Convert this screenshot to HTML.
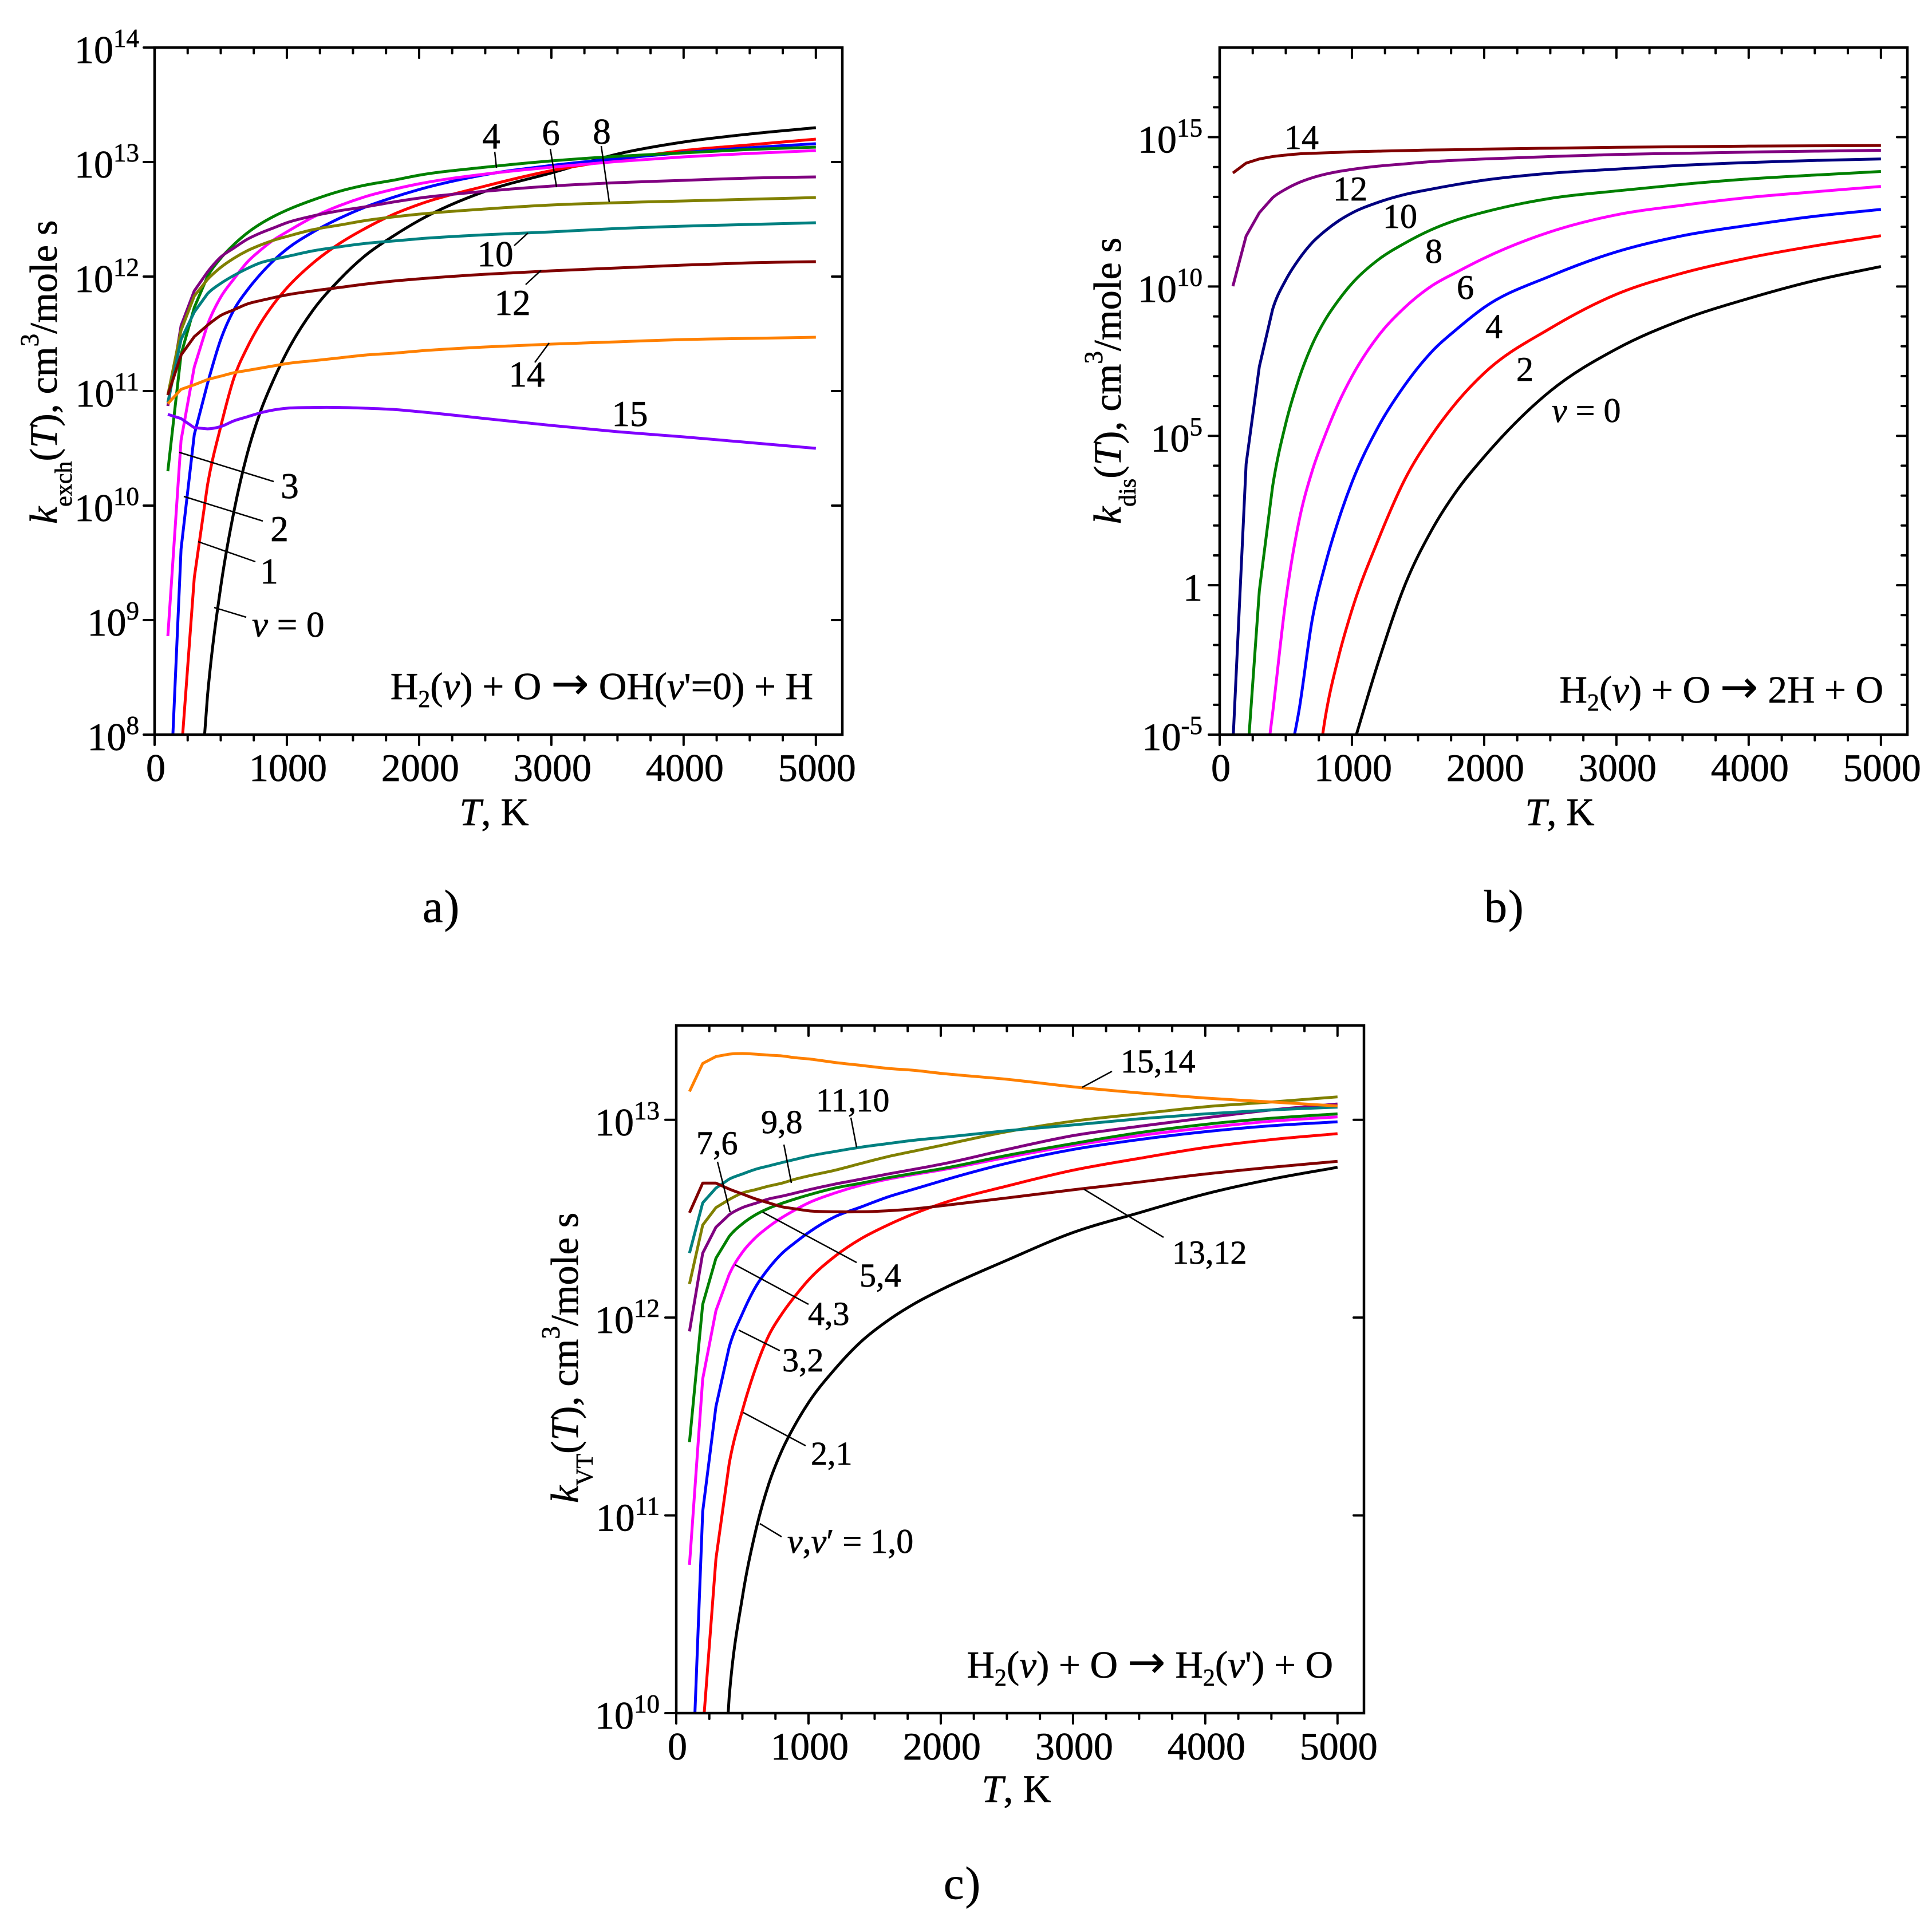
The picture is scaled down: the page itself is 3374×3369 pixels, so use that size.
<!DOCTYPE html>
<html lang="en">
<head>
<meta charset="utf-8">
<title>H2 + O rate coefficients</title>
<style>
html,body{margin:0;padding:0;background:#fff;}
svg{display:block;}
text{font-family:"Liberation Serif",serif;fill:#000;stroke:#000;stroke-width:.7px;}
.lead{stroke:#000;stroke-width:2.5;fill:none;}
.tt{font-size:68px;}
.an{font-size:63px;text-anchor:middle;}
.anb{font-size:60px;text-anchor:middle;}
.anc{font-size:58px;}
.pl{font-size:80px;letter-spacing:2px;}
.arrow{font-family:"DejaVu Sans",sans-serif;font-size:80px;stroke-width:0;}
</style>
</head>
<body>
<svg id="fig" xmlns="http://www.w3.org/2000/svg" width="3374" height="3369" viewBox="0 0 3374 3369">
<rect x="0" y="0" width="3374" height="3369" fill="#fff"/>
<g id="plots"></g>

<!-- Panel a text -->
<g>
<text class="tt" x="863" y="1441" text-anchor="middle"><tspan font-style="italic">T</tspan>, K</text>
<text class="tt" transform="translate(99,915) rotate(-90)"><tspan font-style="italic">k</tspan><tspan font-size="42" dy="26">exch</tspan><tspan dy="-26">(</tspan><tspan font-style="italic">T</tspan>), cm<tspan font-size="45" dy="-32">3</tspan><tspan dy="32">/mole s</tspan></text>
<text font-size="67" x="1420" y="1221" text-anchor="end">H<tspan font-size="42" dy="14">2</tspan><tspan dy="-14">(</tspan><tspan font-style="italic">v</tspan>) + O <tspan class="arrow">→</tspan> OH(<tspan font-style="italic">v</tspan>'=0) + H</text>
<text class="pl" x="738" y="1610">a)</text>
<text class="an" x="858" y="259">4</text>
<text class="an" x="962" y="253">6</text>
<text class="an" x="1051" y="251">8</text>
<text class="an" x="865" y="465">10</text>
<text class="an" x="895" y="550">12</text>
<text class="an" x="920" y="675">14</text>
<text class="an" x="1100" y="744">15</text>
<text class="an" x="506" y="870">3</text>
<text class="an" x="488" y="945">2</text>
<text class="an" x="470" y="1019">1</text>
<text font-size="63" x="440" y="1112"><tspan font-style="italic">v</tspan> = 0</text>
<line class="lead" x1="313" y1="790" x2="478" y2="841"/>
<line class="lead" x1="321" y1="867" x2="459" y2="910"/>
<line class="lead" x1="346" y1="946" x2="446" y2="981"/>
<line class="lead" x1="374" y1="1061" x2="430" y2="1078"/>
<line class="lead" x1="864" y1="265" x2="867" y2="293"/>
<line class="lead" x1="961" y1="260" x2="972" y2="327"/>
<line class="lead" x1="1050" y1="255" x2="1064" y2="353"/>
<line class="lead" x1="922" y1="407" x2="898" y2="429"/>
<line class="lead" x1="945" y1="472" x2="918" y2="497"/>
<line class="lead" x1="959" y1="599" x2="934" y2="633"/>
</g>

<!-- Panel b text -->
<g>
<text class="tt" x="2724" y="1441" text-anchor="middle"><tspan font-style="italic">T</tspan>, K</text>
<text class="tt" transform="translate(1957,915) rotate(-90)"><tspan font-style="italic">k</tspan><tspan font-size="42" dy="26">dis</tspan><tspan dy="-26">(</tspan><tspan font-style="italic">T</tspan>), cm<tspan font-size="45" dy="-32">3</tspan><tspan dy="32">/mole s</tspan></text>
<text font-size="67" x="3289" y="1227" text-anchor="end">H<tspan font-size="42" dy="14">2</tspan><tspan dy="-14">(</tspan><tspan font-style="italic">v</tspan>) + O <tspan class="arrow">→</tspan> 2H + O</text>
<text class="pl" x="2592" y="1610">b)</text>
<text class="anb" x="2273" y="260">14</text>
<text class="anb" x="2358" y="350">12</text>
<text class="anb" x="2445" y="398">10</text>
<text class="anb" x="2504" y="459">8</text>
<text class="anb" x="2559" y="522">6</text>
<text class="anb" x="2609" y="590">4</text>
<text class="anb" x="2663" y="665">2</text>
<text font-size="60" x="2710" y="737"><tspan font-style="italic">v</tspan> = 0</text>
</g>

<!-- Panel c text -->
<g>
<text class="tt" x="1775" y="3147" text-anchor="middle"><tspan font-style="italic">T</tspan>, K</text>
<text class="tt" transform="translate(1009,2625) rotate(-90)"><tspan font-style="italic">k</tspan><tspan font-size="42" dy="26">VT</tspan><tspan dy="-26">(</tspan><tspan font-style="italic">T</tspan>), cm<tspan font-size="45" dy="-32">3</tspan><tspan dy="32">/mole s</tspan></text>
<text font-size="67" x="2328" y="2930" text-anchor="end">H<tspan font-size="42" dy="14">2</tspan><tspan dy="-14">(</tspan><tspan font-style="italic">v</tspan>) + O <tspan class="arrow">→</tspan> H<tspan font-size="42" dy="14">2</tspan><tspan dy="-14">(</tspan><tspan font-style="italic">v</tspan>') + O</text>
<text class="pl" x="1648" y="3316">c)</text>
<text class="anc" x="1957" y="1873">15,14</text>
<text class="anc" x="1425" y="1941">11,10</text>
<text class="anc" x="1329" y="1979">9,8</text>
<text class="anc" x="1216" y="2016">7,6</text>
<text class="anc" x="1501" y="2247">5,4</text>
<text class="anc" x="1411" y="2314">4,3</text>
<text class="anc" x="1366" y="2395">3,2</text>
<text class="anc" x="1416" y="2558">2,1</text>
<text font-size="60" x="1375" y="2712"><tspan font-style="italic">v</tspan>,<tspan font-style="italic">v</tspan>′ = 1,0</text>
<text class="anc" x="2047" y="2207">13,12</text>
<line class="lead" x1="1890" y1="1899" x2="1942" y2="1871"/>
<line class="lead" x1="1486" y1="1952" x2="1496" y2="2004"/>
<line class="lead" x1="1369" y1="1999" x2="1382" y2="2066"/>
<line class="lead" x1="1253" y1="2029" x2="1275" y2="2117"/>
<line class="lead" x1="1332" y1="2117" x2="1496" y2="2205"/>
<line class="lead" x1="1284" y1="2209" x2="1412" y2="2278"/>
<line class="lead" x1="1290" y1="2323" x2="1362" y2="2359"/>
<line class="lead" x1="1298" y1="2467" x2="1407" y2="2525"/>
<line class="lead" x1="1327" y1="2661" x2="1365" y2="2684"/>
<line class="lead" x1="1893" y1="2077" x2="2032" y2="2161"/>
</g>
</svg>

<script>
// Temperature grid (K), shared by every series
const temperatures = [100,200,300,400,500,600,700,800,900,1000,1200,1400,1600,1800,2000,2500,3000,3500,4000,4500,5000];

// X-axis ticks
const xMajorTicks = [0,1000,2000,3000,4000,5000];
const xMinorStep = 250;
const xLimit = 5200;

// Panel a: log10 k_exch
const aExponents = [8,9,10,11,12,13,14];
const aV0  = [null,null,6.79,8.34,9.29,9.95,10.45,10.82,11.10,11.34,11.71,11.975,12.19,12.35,12.49,12.745,12.905,13.07,13.175,13.245,13.30];
const aV1  = [null,7.81,9.37,10.18,10.69,11.115,11.38,11.59,11.76,11.90,12.12,12.29,12.425,12.54,12.63,12.79,12.925,13.02,13.10,13.15,13.20];
const aV2  = [7.0,9.62,10.62,11.065,11.45,11.71,11.88,12.02,12.14,12.24,12.39,12.51,12.61,12.69,12.76,12.89,12.97,13.03,13.083,13.125,13.16];
const aV3  = [8.86,10.57,11.21,11.58,11.82,11.98,12.125,12.23,12.32,12.39,12.52,12.62,12.70,12.76,12.81,12.895,12.955,13.005,13.045,13.075,13.10];
const aV4  = [10.30,11.32,11.73,12.0,12.16,12.28,12.38,12.46,12.525,12.58,12.67,12.745,12.80,12.84,12.885,12.955,13.01,13.05,13.08,13.11,13.13];
const aV6  = [10.87,11.57,11.875,12.04,12.17,12.25,12.325,12.38,12.425,12.47,12.53,12.575,12.61,12.65,12.685,12.745,12.79,12.82,12.84,12.86,12.87];
const aV8  = [10.965,11.53,11.83,11.975,12.08,12.16,12.225,12.275,12.317,12.35,12.41,12.45,12.49,12.52,12.545,12.59,12.625,12.645,12.66,12.675,12.69];
const aV10 = [10.90,11.45,11.69,11.85,11.94,12.01,12.07,12.12,12.15,12.175,12.225,12.26,12.29,12.31,12.33,12.365,12.39,12.42,12.44,12.455,12.47];
const aV12 = [10.965,11.315,11.475,11.575,11.66,11.71,11.76,11.79,11.816,11.84,11.875,11.905,11.935,11.96,11.98,12.02,12.05,12.075,12.10,12.12,12.13];
const aV14 = [10.89,11.015,11.055,11.10,11.13,11.16,11.18,11.20,11.22,11.24,11.265,11.29,11.315,11.33,11.35,11.385,11.41,11.43,11.45,11.46,11.47];
const aV15 = [10.796,10.76,10.68,10.67,10.69,10.74,10.775,10.81,10.835,10.85,10.857,10.857,10.85,10.84,10.82,10.76,10.70,10.645,10.60,10.55,10.50];

// Panel b: log10 k_dis
const bExponents = [-5,0,5,10,15];
const bMinorExponents = [-4,-3,-2,-1,1,2,3,4,6,7,8,9,11,12,13,14,16,17];
const bV0  = [null,null,null,null,null,null,null,null,null,-5.5,-2.57,0.0,1.82,3.21,4.3,6.5,7.91,8.89,9.6,10.2,10.67];
const bV2  = [null,null,null,null,null,null,-7.6,-4.39,-2.38,-0.83,1.53,3.54,5.0,6.17,7.1,8.6,9.74,10.45,10.96,11.36,11.7];
const bV4  = [null,null,null,null,-6.4,-4.19,-1.15,0.72,2.2,3.44,5.31,6.7,7.8,8.6,9.3,10.35,11.16,11.7,12.05,12.35,12.58];
const bV6  = [null,null,-7.8,-4.3,-0.5,2.15,3.83,5.05,6.11,6.99,8.35,9.3,10.01,10.5,10.95,11.83,12.4,12.72,12.98,13.17,13.35];
const bV8  = [null,-6.4,-0.18,3.3,5.42,6.92,8.06,8.9,9.55,10.1,10.9,11.45,11.9,12.24,12.49,12.95,13.2,13.42,13.6,13.73,13.85];
const bV10 = [-5.3,4.06,7.32,9.23,10.22,10.92,11.47,11.87,12.2,12.46,12.82,13.08,13.26,13.42,13.56,13.79,13.93,14.06,14.15,14.22,14.27];
const bV12 = [10.01,11.69,12.47,12.97,13.26,13.48,13.64,13.76,13.85,13.92,14.03,14.105,14.18,14.23,14.27,14.35,14.42,14.46,14.50,14.53,14.56];
const bV14 = [13.80,14.13,14.27,14.35,14.40,14.44,14.46,14.475,14.49,14.51,14.53,14.55,14.57,14.58,14.60,14.63,14.66,14.68,14.70,14.71,14.72];

// Panel c: log10 k_VT
const cExponents = [10,11,12,13];
const cV1V0   = [null,null,9.0,10.08,10.586,10.92,11.16,11.33,11.46,11.57,11.74,11.88,11.985,12.07,12.14,12.29,12.43,12.53,12.625,12.70,12.76];
const cV2V1   = [null,9.9,10.78,11.26,11.53,11.744,11.91,12.02,12.11,12.19,12.31,12.40,12.468,12.526,12.575,12.665,12.745,12.805,12.86,12.90,12.93];
const cV3V2   = [9.29,11.02,11.55,11.85,12.02,12.155,12.25,12.325,12.38,12.43,12.51,12.56,12.61,12.65,12.69,12.78,12.85,12.90,12.94,12.97,12.99];
const cV4V3   = [10.75,11.69,12.035,12.218,12.33,12.405,12.46,12.506,12.545,12.58,12.63,12.67,12.70,12.724,12.746,12.81,12.87,12.92,12.96,12.993,13.015];
const cV5V4   = [11.37,12.067,12.30,12.41,12.474,12.52,12.553,12.578,12.60,12.62,12.655,12.68,12.707,12.73,12.752,12.82,12.88,12.935,12.977,13.008,13.03];
const cV7V6   = [11.93,12.326,12.457,12.52,12.556,12.578,12.60,12.614,12.63,12.646,12.675,12.70,12.726,12.75,12.775,12.85,12.92,12.967,13.01,13.05,13.08];
const cV9V8   = [12.17,12.468,12.556,12.597,12.63,12.647,12.665,12.68,12.70,12.716,12.745,12.78,12.814,12.842,12.87,12.94,12.993,13.03,13.066,13.09,13.116];
const cV11V10 = [12.326,12.58,12.655,12.70,12.726,12.75,12.767,12.784,12.80,12.816,12.84,12.862,12.88,12.897,12.91,12.945,12.974,13.005,13.03,13.05,13.064];
const cV13V12 = [12.53,12.68,12.68,12.65,12.625,12.60,12.58,12.56,12.55,12.54,12.535,12.535,12.54,12.55,12.565,12.605,12.646,12.685,12.726,12.76,12.79];
const cV15V14 = [13.143,13.285,13.32,13.332,13.335,13.332,13.327,13.323,13.314,13.308,13.29,13.275,13.26,13.25,13.235,13.205,13.167,13.136,13.11,13.09,13.07];

const NS = 'http://www.w3.org/2000/svg';
const plotsRoot = document.getElementById('plots');
const smoothFromT = 400;

function svgEl(tag, parent, attrs) {
  const el = document.createElementNS(NS, tag);
  for (const k in attrs) el.setAttribute(k, attrs[k]);
  parent.appendChild(el);
  return el;
}

// Straight segments below smoothFromT (the low-T kinks are real), cubic above.
function curvePath(pts) {
  const n = pts.length;
  const slope = pts.map(function (p, i) {
    if (i === 0 || i === n - 1) {
      const a = pts[i === 0 ? 0 : n - 2];
      const b = pts[i === 0 ? 1 : n - 1];
      return (b.y - a.y) / (b.x - a.x);
    }
    const h0 = p.x - pts[i - 1].x;
    const h1 = pts[i + 1].x - p.x;
    const d0 = (p.y - pts[i - 1].y) / h0;
    const d1 = (pts[i + 1].y - p.y) / h1;
    return (d0 * h1 + d1 * h0) / (h0 + h1);
  });
  let d = 'M' + pts[0].x.toFixed(2) + ' ' + pts[0].y.toFixed(2);
  for (let i = 1; i < n; i++) {
    const a = pts[i - 1];
    const b = pts[i];
    if (a.t < smoothFromT) {
      d += 'L' + b.x.toFixed(2) + ' ' + b.y.toFixed(2);
    } else {
      const h = (b.x - a.x) / 3;
      d += 'C' + (a.x + h).toFixed(2) + ' ' + (a.y + slope[i - 1] * h).toFixed(2) + ' ' +
        (b.x - h).toFixed(2) + ' ' + (b.y - slope[i] * h).toFixed(2) + ' ' +
        b.x.toFixed(2) + ' ' + b.y.toFixed(2);
    }
  }
  return d;
}

function drawPanel(p) {
  const xScale = function (t) { return p.left + (t / xLimit) * (p.right - p.left); };
  const yScale = function (v) { return p.bottom - ((v - p.yMin) / (p.yMax - p.yMin)) * (p.bottom - p.top); };

  const group = svgEl('g', plotsRoot, {});
  
  

  const clip = svgEl('clipPath', group, { id: 'clip-' + p.id });
  
  
  svgEl('rect', clip, { x: p.left, y: p.top, width: p.right - p.left, height: p.bottom - p.top });

  // curves
  const curves = svgEl('g', group, { 'clip-path': 'url(#clip-' + p.id + ')' });
  
  
  p.series.forEach(function (s) {
    const pts = [];
    s.values.forEach(function (v, i) {
      if (v === null) return;
      pts.push({ t: temperatures[i], x: xScale(temperatures[i]), y: yScale(v) });
    });
    const path = svgEl('path', curves, { d: curvePath(pts), fill: 'none', stroke: s.color, 'stroke-width': 5, 'stroke-linejoin': 'round' });
    
    
  });

  // frame
  const frame = svgEl('rect', group, { x: p.left, y: p.top, width: p.right - p.left, height: p.bottom - p.top, fill: 'none', stroke: '#000', 'stroke-width': 4.5 });
  
  

  const tickAttrs = { stroke: '#000', 'stroke-width': 4, 'stroke-linecap': 'round' };
  function tick(x1, y1, x2, y2, name) {
    const l = svgEl('line', group, Object.assign({ x1: x1, y1: y1, x2: x2, y2: y2 }, tickAttrs));
    
    
  }

  // x ticks
  for (let t = 0; t <= 5000; t += xMinorStep) {
    const major = xMajorTicks.indexOf(t) >= 0;
    const len = major ? 18 : 10;
    const x = xScale(t);
    tick(x, p.bottom, x, p.bottom + len, major ? 'x-major-tick' : 'x-minor-tick');
    tick(x, p.top, x, p.top + len, major ? 'x-major-tick-top' : 'x-minor-tick-top');
  }
  xMajorTicks.forEach(function (t) {
    const lab = svgEl('text', group, { x: xScale(t) + 2, y: p.bottom + 81, 'font-size': 68, 'text-anchor': 'middle' });
    lab.textContent = String(t);
    
    
  });

  // y ticks
  p.exponents.forEach(function (e) {
    const y = yScale(e);
    if (y > p.top + 1) tick(p.right, y, p.right - 18, y, 'y-major-tick-right');
    tick(p.left, y, p.left - 19, y, 'y-major-tick');
    const lab = svgEl('text', group, { x: p.labelRight, y: y + 27, 'font-size': 68, 'text-anchor': 'end' });
    
    
    if (e === 0) {
      lab.textContent = '1';
    } else {
      const base = svgEl('tspan', lab, {});
      base.textContent = '10';
      const sup = svgEl('tspan', lab, { 'font-size': 45, dy: -28 });
      sup.textContent = String(e);
    }
  });
  (p.minorExponents || []).forEach(function (e) {
    const y = yScale(e);
    tick(p.left, y, p.left - 10, y, 'y-minor-tick');
    tick(p.right, y, p.right - 10, y, 'y-minor-tick-right');
  });
}

drawPanel({
  id: 'a', left: 270, right: 1471, top: 83, bottom: 1283, yMin: 8, yMax: 14, labelRight: 243,
  exponents: aExponents,
  series: [
    { name: 'v0', color: '#000000', values: aV0 },
    { name: 'v1', color: '#ff0000', values: aV1 },
    { name: 'v2', color: '#0000ff', values: aV2 },
    { name: 'v3', color: '#ff00ff', values: aV3 },
    { name: 'v4', color: '#008000', values: aV4 },
    { name: 'v6', color: '#800080', values: aV6 },
    { name: 'v8', color: '#808000', values: aV8 },
    { name: 'v10', color: '#008080', values: aV10 },
    { name: 'v12', color: '#800000', values: aV12 },
    { name: 'v14', color: '#ff8000', values: aV14 },
    { name: 'v15', color: '#8000ff', values: aV15 }
  ]
});

drawPanel({
  id: 'b', left: 2130, right: 3331, top: 83, bottom: 1283, yMin: -5, yMax: 18, labelRight: 2100,
  exponents: bExponents, minorExponents: bMinorExponents,
  series: [
    { name: 'v0', color: '#000000', values: bV0 },
    { name: 'v2', color: '#ff0000', values: bV2 },
    { name: 'v4', color: '#0000ff', values: bV4 },
    { name: 'v6', color: '#ff00ff', values: bV6 },
    { name: 'v8', color: '#008000', values: bV8 },
    { name: 'v10', color: '#000080', values: bV10 },
    { name: 'v12', color: '#800080', values: bV12 },
    { name: 'v14', color: '#800000', values: bV14 }
  ]
});

drawPanel({
  id: 'c', left: 1181, right: 2382, top: 1791, bottom: 2992, yMin: 10, yMax: 13.477, labelRight: 1152,
  exponents: cExponents,
  series: [
    { name: 'v1-0', color: '#000000', values: cV1V0 },
    { name: 'v2-1', color: '#ff0000', values: cV2V1 },
    { name: 'v3-2', color: '#0000ff', values: cV3V2 },
    { name: 'v4-3', color: '#ff00ff', values: cV4V3 },
    { name: 'v5-4', color: '#008000', values: cV5V4 },
    { name: 'v7-6', color: '#800080', values: cV7V6 },
    { name: 'v9-8', color: '#808000', values: cV9V8 },
    { name: 'v11-10', color: '#008080', values: cV11V10 },
    { name: 'v13-12', color: '#800000', values: cV13V12 },
    { name: 'v15-14', color: '#ff8000', values: cV15V14 }
  ]
});
</script>
</body>
</html>
